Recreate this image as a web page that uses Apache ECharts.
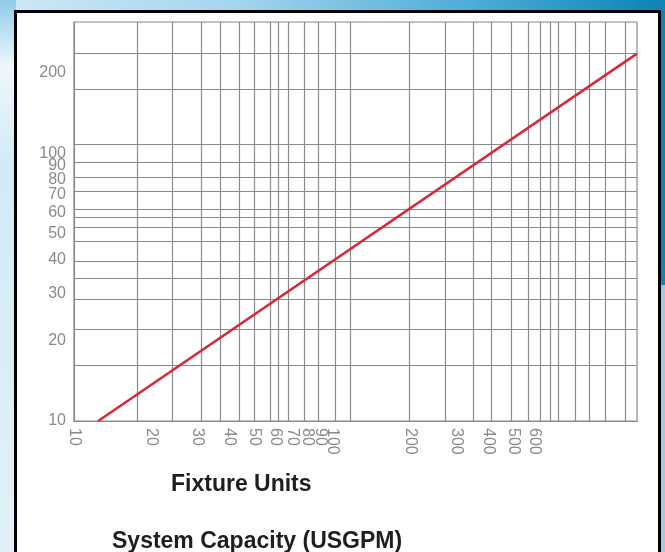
<!DOCTYPE html>
<html>
<head>
<meta charset="utf-8">
<script src="https://cdn.jsdelivr.net/npm/echarts@6/dist/echarts.min.js"></script>
<style>
html,body{margin:0;padding:0;background:#ffffff;}
#c{width:665px;height:552px;}
</style>
</head>
<body>
<div id="c"></div>
<script>
// ---- Data ----
// Tick labels (Fixture Units, horizontal axis)
const xLabelValues = [10, 20, 30, 40, 50, 60, 70, 80, 90, 100, 200, 300, 400, 500, 600];
// Tick labels (System Capacity, vertical axis)
const yLabelValues = [10, 20, 30, 40, 50, 60, 70, 80, 90, 100, 200];
// Irregular grid lines as drawn in the reference (values estimated on the log scales)
const xGridValues = [17.6, 23.9, 31.1, 36.9, 43.7, 49.9, 57.3, 61.5, 67.6, 77.9, 87.9, 102.7, 116.9,
                     196.8, 272.4, 349.6, 410.6, 488.1, 568, 632.3, 691.1, 745.3, 863.6, 982.4, 1128, 1348];
const yGridValues = [16.2, 22.1, 28.4, 34.2, 39.7, 46.9, 53.1, 57.9, 61.7, 72.2, 81.5, 93.0, 108, 173.5, 236];
// Axis extents
const xMin = 10, xMax = 1500;
const yMin = 10, yMax = 310;
// The red capacity line (fixture units -> USGPM)
const fixtureUnits = [12.4, 1500];
const capacityUSGPM = [10, 236];

const gridColor = '#8a8a8a';
const labelColor = '#8a8a8a';

const chart = echarts.init(document.getElementById('c'), null, {renderer: 'canvas'});
const option = {
  backgroundColor: 'transparent',
  animation: false,
  graphic: {
    elements: [
      { type: 'rect', z: -20, silent: true,
        shape: {x: 0, y: 0, width: 665, height: 552},
        style: { fill: new echarts.graphic.LinearGradient(0, 0, 1, 0, [
          {offset: 0, color: '#cfe9f6'}, {offset: 0.35, color: '#a6d5ee'},
          {offset: 0.7, color: '#4eaed7'}, {offset: 1, color: '#0c84b5'}]) } },
      { type: 'rect', z: -19, silent: true,
        shape: {x: 0, y: 0, width: 16, height: 552},
        style: { fill: new echarts.graphic.LinearGradient(0, 0, 0, 1, [
          {offset: 0, color: '#8fcbe9'}, {offset: 0.12, color: '#eef7fc'},
          {offset: 0.3, color: '#d3eaf6'}, {offset: 1, color: '#e2f1f8'}]) } },
      { type: 'rect', z: -19, silent: true,
        shape: {x: 660, y: 285, width: 5, height: 267},
        style: { fill: '#a3c7dc' } },
      { type: 'rect', z: -18, silent: true,
        shape: {x: 15.5, y: 11.5, width: 644, height: 560},
        style: { fill: '#ffffff', stroke: '#000000', lineWidth: 3 } }
    ]
  },
  title: [
    { text: 'Fixture Units', left: 166, top: 468,
      textStyle: {fontFamily: 'Liberation Sans', fontSize: 23, fontWeight: 'bold', color: '#1e1e1e'} },
    { text: 'System Capacity (USGPM)', left: 107, top: 525,
      textStyle: {fontFamily: 'Liberation Sans', fontSize: 23, fontWeight: 'bold', color: '#1e1e1e'} }
  ],
  grid: {
    left: 74, right: 28, top: 22, bottom: 131,
    show: true, borderColor: gridColor, borderWidth: 1.2, backgroundColor: 'transparent',
    containLabel: false
  },
  xAxis: {
    type: 'log', logBase: 10, min: xMin, max: xMax,
    axisLine: {show: true, lineStyle: {color: gridColor, width: 1.2}},
    axisTick: {show: false, customValues: xGridValues},
    splitLine: {show: true, lineStyle: {color: gridColor, width: 1.2}},
    minorSplitLine: {show: false},
    axisLabel: {
      customValues: xLabelValues, rotate: -90, margin: 7,
      fontFamily: 'Liberation Sans', fontSize: 16, color: labelColor
    }
  },
  yAxis: {
    type: 'log', logBase: 10, min: yMin, max: yMax,
    axisLine: {show: true, lineStyle: {color: gridColor, width: 1.2}},
    axisTick: {show: false, customValues: yGridValues},
    splitLine: {show: true, lineStyle: {color: gridColor, width: 1.2}},
    minorSplitLine: {show: false},
    axisLabel: {
      customValues: yLabelValues, margin: 8,
      fontFamily: 'Liberation Sans', fontSize: 16, color: labelColor
    }
  },
  series: [{
    type: 'line',
    data: fixtureUnits.map((x, i) => [x, capacityUSGPM[i]]),
    symbol: 'none',
    clip: false,
    lineStyle: {color: '#d62a3b', width: 2.6},
    z: 5
  }]
};
chart.setOption(option);
</script>
</body>
</html>
